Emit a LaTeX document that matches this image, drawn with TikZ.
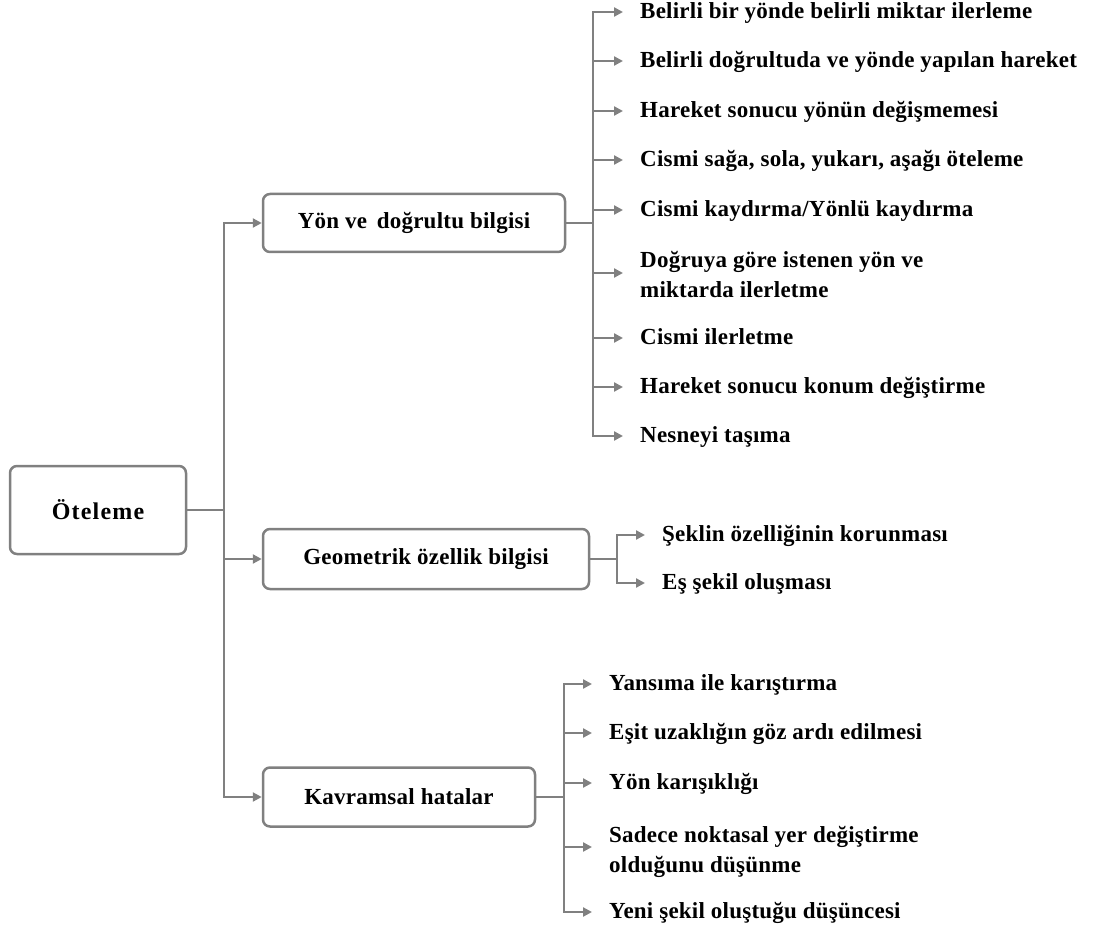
\documentclass[tikz,border=0pt]{standalone}
\usepackage{fontspec}
\setmainfont{Liberation Serif}[LetterSpace=1]
\usetikzlibrary{arrows.meta}
\definecolor{linegray}{RGB}{128,128,128}
\tikzset{
  conn/.style={draw=linegray, line width=2.5pt},
  arr/.style={conn, -{Triangle[length=9pt,width=9pt]}},
  box/.style={draw=linegray, line width=2.5pt, rounded corners=7pt, fill=white,
    inner sep=0pt, font=\bfseries},
  item/.style={anchor=west, inner xsep=17pt, inner ysep=0pt, text height=14pt,
    text depth=1pt, font=\bfseries},
  item2/.style={item, align=left, text height=50pt, text depth=0pt},
}
\begin{document}
\begin{tikzpicture}[x=1pt, y=-1pt]
\fontsize{23}{30}\selectfont
\useasboundingbox (0,0) rectangle (1097,933);

% main boxes
\node[box, minimum width=176pt, minimum height=88pt] (root) at (98,510)
  {\fontsize{24}{30}\selectfont\addfontfeature{LetterSpace=5}Öteleme};
\node[box, minimum width=302pt, minimum height=58pt] (yon) at (414,223) {Yön ve\, doğrultu bilgisi};
\node[box, minimum width=326pt, minimum height=60pt] (geo) at (426,559) {Geometrik özellik bilgisi};
\node[box, minimum width=272pt, minimum height=59pt] (kav) at (399,797) {Kavramsal hatalar};

% main trunk
\coordinate (mt) at (224,510);
\draw[conn] (root.east) -- (mt);
\draw[arr] (mt) |- (yon.west);
\draw[arr] (mt) |- (geo.west);
\draw[arr] (mt) |- (kav.west);

% direction and alignment knowledge
\node[item] (y1) at (623,12) {Belirli bir yönde belirli miktar ilerleme};
\node[item] (y2) at (623,61) {Belirli doğrultuda ve yönde yapılan hareket};
\node[item] (y3) at (623,111) {Hareket sonucu yönün değişmemesi};
\node[item] (y4) at (623,160) {Cismi sağa, sola, yukarı, aşağı öteleme};
\node[item] (y5) at (623,210) {Cismi kaydırma/Yönlü kaydırma};
\node[item2] (y6) at (623,273) {Doğruya göre istenen yön ve\\miktarda ilerletme};
\node[item] (y7) at (623,338) {Cismi ilerletme};
\node[item] (y8) at (623,387) {Hareket sonucu konum değiştirme};
\node[item] (y9) at (623,436) {Nesneyi taşıma};
\coordinate (ty) at (593,223);
\draw[conn] (yon.east) -- (ty);
\foreach \n in {y1,y2,y3,y4,y5,y6,y7,y8,y9}
  \draw[arr] (ty) |- (\n.west);

% geometric property knowledge
\node[item] (g1) at (645,535) {Şeklin özelliğinin korunması};
\node[item] (g2) at (645,583) {Eş şekil oluşması};
\coordinate (tg) at (617,559);
\draw[conn] (geo.east) -- (tg);
\foreach \n in {g1,g2}
  \draw[arr] (tg) |- (\n.west);

% conceptual errors
\node[item] (k1) at (592,684) {Yansıma ile karıştırma};
\node[item] (k2) at (592,733) {Eşit uzaklığın göz ardı edilmesi};
\node[item] (k3) at (592,783) {Yön karışıklığı};
\node[item2] (k4) at (592,847) {Sadece noktasal yer değiştirme\\olduğunu düşünme};
\node[item] (k5) at (592,912) {Yeni şekil oluştuğu düşüncesi};
\coordinate (tk) at (564,797);
\draw[conn] (kav.east) -- (tk);
\foreach \n in {k1,k2,k3,k4,k5}
  \draw[arr] (tk) |- (\n.west);
\end{tikzpicture}
\end{document}
